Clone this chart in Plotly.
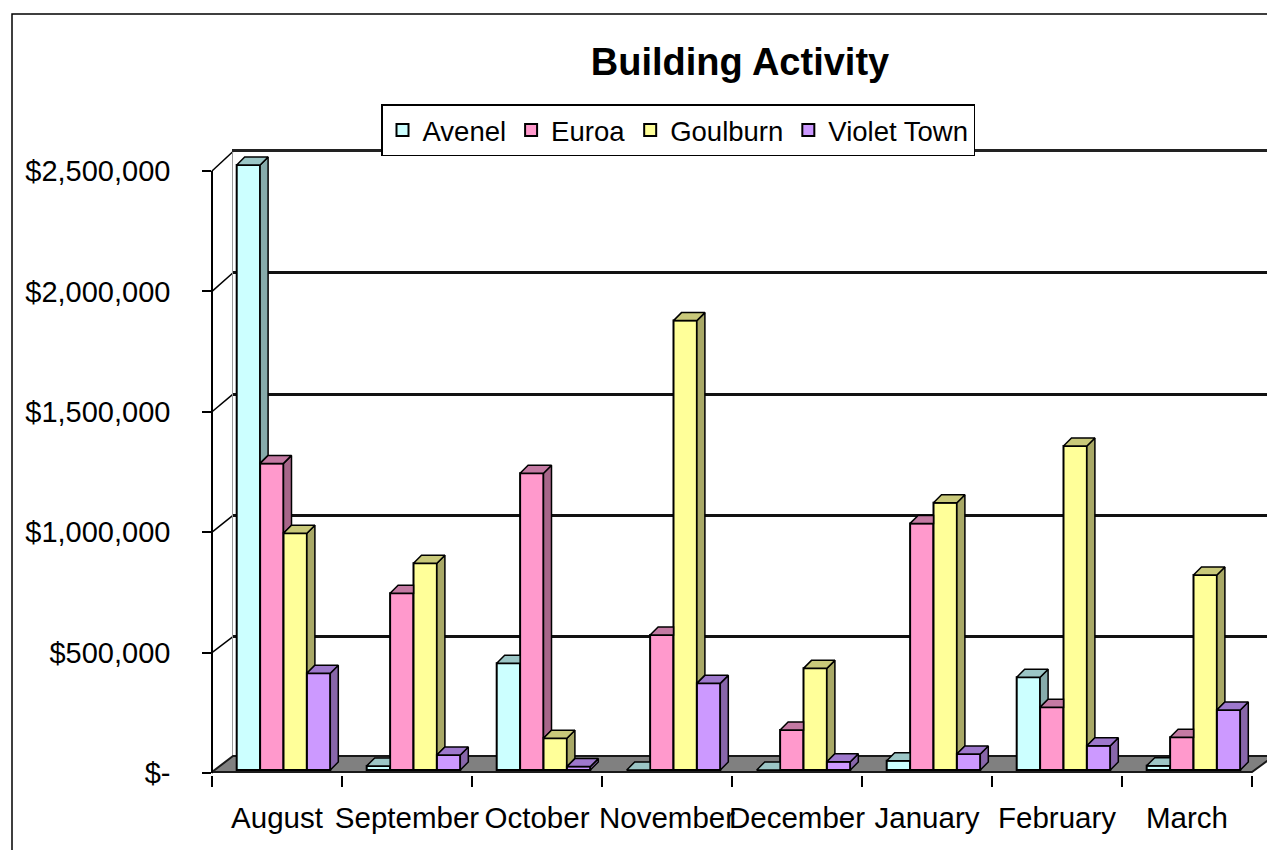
import plotly.graph_objects as go

# ---------------- data ----------------
months = ["August", "September", "October", "November", "December", "January", "February", "March"]
series_names = ["Avenel", "Euroa", "Goulburn", "Violet Town"]
avenel = [2500000, 17000, 441000, 0, 0, 38000, 383000, 18000]
euroa = [1267000, 730000, 1226000, 558000, 165000, 1019000, 259000, 135000]
goulburn = [978000, 854000, 131000, 1857000, 420000, 1104000, 1339000, 806000]
violet_town = [400000, 62000, 14000, 358000, 34000, 66000, 100000, 248000]
y_tick_values = [0, 500000, 1000000, 1500000, 2000000, 2500000]
y_tick_labels = ["$-", "$500,000", "$1,000,000", "$1,500,000", "$2,000,000", "$2,500,000"]

series_values = [avenel, euroa, goulburn, violet_town]
front_colors = ["#CCFFFF", "#FF99CC", "#FFFF99", "#CC99FF"]
side_colors = ["#86ABAB", "#A8668A", "#A8A866", "#8866AA"]
top_colors = ["#9CC6C6", "#C47AA3", "#C9C97A", "#9E78CC"]

# ---------------- geometry (page pixels) ----------------
OFF = 8  # page offset of the figure (body margin)
W, H = 1275 - OFF, 850 - OFF


def fx(px):
    return (px - OFF) / W


def fy(py):
    return 1 - (py - OFF) / H


FONT = "Liberation Sans, Arial, sans-serif"

# bar (front) frame
X_L, CAT, X_R = 212, 130, 1274
Y0B = 770
KB = 121 / 500000  # px per dollar
Y2_BOT, Y2_TOP = 775, 150
BAR_W = 0.18
SHIFT = 0.05
DX = 8 / CAT
DY = 8 / KB

# back wall frame
BW_L, BW_R, BW_BOT, BW_TOP = 233, 1274, 758, 151.5
# front value axis
FA_BOT, FA_TOP = 773, 171
VMAX = 2500000

fig = go.Figure()

# empty trace to create back-wall subplot first (drawn underneath)
fig.add_trace(go.Scatter(x=[None], y=[None], xaxis="x", yaxis="y", showlegend=False, hoverinfo="skip"))

positions = []
for j in range(4):
    positions.append([i + SHIFT + (j - 1.5) * BAR_W for i in range(len(months))])

# front faces
for j in range(4):
    fig.add_trace(go.Bar(
        x=positions[j], y=series_values[j], width=BAR_W, name=series_names[j],
        marker=dict(color=front_colors[j], line=dict(color="black", width=2)),
        xaxis="x2", yaxis="y2", hovertemplate="%{y:$,.0f}<extra>" + series_names[j] + "</extra>",
    ))

# side and top faces (3D effect) computed from the data
for j in range(4):
    sx, sy, tx, ty = [], [], [], []
    hw = BAR_W / 2
    for i in range(len(months)):
        c = positions[j][i]
        v = series_values[j][i]
        vn = series_values[j + 1][i] if j < 3 else None
        xr = c + hw
        base = 0 if vn is None else min(vn, v)
        if base < v or vn is None:
            sx += [xr, xr + DX, xr + DX, xr, xr, None]
            sy += [base, base + DY, v + DY, v, base, None]
        A = (c - hw, v)
        B = (xr, v)
        C = (xr + DX, v + DY)
        D = (c - hw + DX, v + DY)
        if vn is None or vn <= v:
            pts = [A, B, C, D]
        elif vn >= v + DY:
            pts = [A, B, (xr, v + DY), D]
        else:
            pts = [A, B, (xr, vn), (xr + DX * (vn - v) / DY, vn), C, D]
        for p in pts + [pts[0]]:
            tx.append(p[0])
            ty.append(p[1])
        tx.append(None)
        ty.append(None)
    fig.add_trace(go.Scatter(x=sx, y=sy, mode="lines", fill="toself", fillcolor=side_colors[j],
                             line=dict(color="black", width=1.5), xaxis="x2", yaxis="y2",
                             showlegend=False, hoverinfo="skip"))
    fig.add_trace(go.Scatter(x=tx, y=ty, mode="lines", fill="toself", fillcolor=top_colors[j],
                             line=dict(color="black", width=1.5), xaxis="x2", yaxis="y2",
                             showlegend=False, hoverinfo="skip"))

# trace for the front value axis
fig.add_trace(go.Scatter(x=[None], y=[None], xaxis="x2", yaxis="y3", showlegend=False, hoverinfo="skip"))

x2_max = -0.5 + (X_R - X_L) / CAT

shapes = []
# floor
floor_pts = [
    (-0.5, (Y0B - 772) / KB),
    (-0.5 + (1252 - X_L) / CAT, (Y0B - 772) / KB),
    (x2_max, (Y0B - 756) / KB),
    (-0.5 + (BW_L - X_L) / CAT, (Y0B - 756) / KB),
]
path = "M " + " L ".join(f"{p[0]},{p[1]}" for p in floor_pts) + " Z"
shapes.append(dict(type="path", xref="x2", yref="y2", path=path, fillcolor="#808080",
                   line=dict(color="#1a1a1a", width=2), layer="below"))
# side wall diagonals
for v in y_tick_values:
    front_py = FA_BOT - v * (FA_BOT - FA_TOP) / VMAX
    back_py = BW_BOT - v * (BW_BOT - BW_TOP) / VMAX
    shapes.append(dict(type="line", xref="paper", yref="paper", x0=fx(X_L), y0=fy(front_py),
                       x1=fx(BW_L), y1=fy(back_py), line=dict(color="black", width=1.5), layer="below"))
# outer chart border
shapes.append(dict(type="rect", xref="paper", yref="paper", x0=fx(12), x1=1.2, y0=-0.2, y1=fy(14),
                   line=dict(color="black", width=1.5), fillcolor="rgba(0,0,0,0)", layer="below"))

fig.update_layout(
    width=W, height=H,
    margin=dict(l=0, r=0, t=0, b=0, pad=0, autoexpand=False),
    paper_bgcolor="white",
    plot_bgcolor="rgba(0,0,0,0)",
    barmode="overlay",
    showlegend=True,
    title=dict(text="Building Activity", x=fx(740), xanchor="center", y=fy(62), yanchor="middle",
               xref="paper", yref="paper",
               font=dict(family=FONT, size=38, color="black", weight="bold")),
    legend=dict(orientation="h", x=fx(678), xanchor="center", y=fy(104), yanchor="top",
                bordercolor="black", borderwidth=1.5, bgcolor="white",
                font=dict(family=FONT, size=27.5, color="black")),
    xaxis=dict(domain=[fx(BW_L), fx(BW_R)], range=[0, 1], anchor="y", showline=True, mirror=True,
               linecolor="#222222", linewidth=2.5, ticks="", showticklabels=False, showgrid=False,
               zeroline=False, fixedrange=True),
    yaxis=dict(domain=[fy(BW_BOT), fy(BW_TOP)], range=[0, VMAX], anchor="x", tickmode="array",
               tickvals=y_tick_values, showgrid=True, gridcolor="#111111", gridwidth=2.5,
               showticklabels=False, ticks="", showline=True, mirror=True, linecolor="#999999",
               linewidth=1, zeroline=False, fixedrange=True),
    xaxis2=dict(domain=[fx(X_L), fx(X_R)], range=[-0.5, x2_max], anchor="y2",
                tickmode="array", tickvals=list(range(len(months))), ticktext=months,
                ticks="outside", ticklen=11, tickcolor="rgba(0,0,0,0)", tickangle=0,
                tickfont=dict(family=FONT, size=29.5, color="black"), ticklabelstandoff=6,
                minor=dict(tickmode="linear", tick0=-0.5, dtick=1, ticks="outside", ticklen=11,
                           tickwidth=1.5, tickcolor="black", showgrid=False),
                showgrid=False, zeroline=False, showline=False, fixedrange=True),
    yaxis2=dict(domain=[fy(Y2_BOT), fy(Y2_TOP)], range=[(Y0B - Y2_BOT) / KB, (Y0B - Y2_TOP) / KB],
                anchor="x2", showgrid=False, zeroline=False, showline=False, showticklabels=False,
                ticks="", fixedrange=True),
    yaxis3=dict(domain=[fy(FA_BOT), fy(FA_TOP)], range=[0, VMAX], anchor="free", position=fx(X_L),
                side="left", tickmode="array", tickvals=y_tick_values, ticktext=y_tick_labels,
                ticks="outside", ticklen=9, tickwidth=1.5, tickcolor="black", showline=True,
                linecolor="black", linewidth=1.5, showgrid=False, zeroline=False,
                tickfont=dict(family=FONT, size=29, color="black"), ticklabelstandoff=26,
                fixedrange=True),
    shapes=shapes,
)

fig.write_html("out.html")
